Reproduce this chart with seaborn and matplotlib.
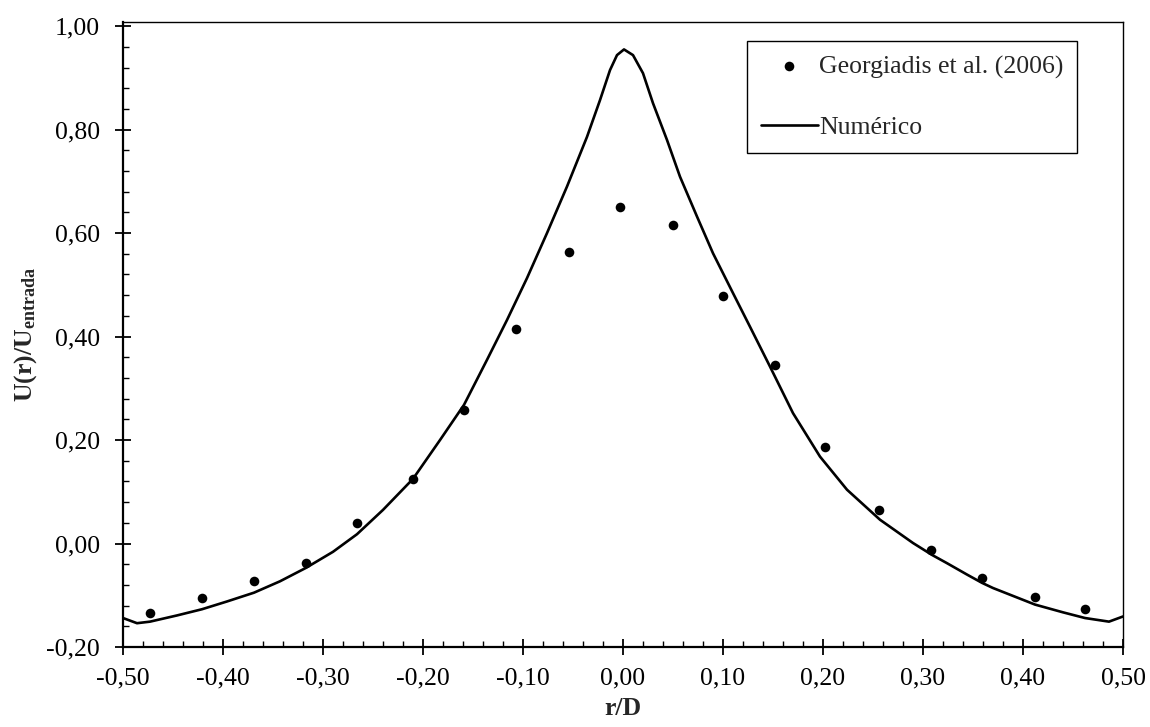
import matplotlib
matplotlib.use("Agg")
import matplotlib.pyplot as plt
import seaborn as sns
import pandas as pd
from matplotlib.ticker import MultipleLocator, FuncFormatter

# Experimental data (Georgiadis et al. 2006)
exp_r = [-0.473, -0.421, -0.369, -0.317, -0.266, -0.210, -0.159, -0.107, -0.054,
         -0.003, 0.050, 0.100, 0.152, 0.202, 0.256, 0.308, 0.359, 0.412, 0.462]
exp_u = [-0.135, -0.106, -0.073, -0.038, 0.040, 0.125, 0.258, 0.415, 0.563,
         0.651, 0.615, 0.479, 0.345, 0.186, 0.064, -0.012, -0.066, -0.103, -0.127]

# Numerical curve
num_r = [-0.500, -0.486, -0.473, -0.446, -0.421, -0.396, -0.369, -0.343, -0.317,
         -0.290, -0.266, -0.240, -0.210, -0.183, -0.159, -0.136, -0.116, -0.096,
         -0.076, -0.056, -0.036, -0.023, -0.013, -0.006, 0.001, 0.010, 0.020,
         0.030, 0.044, 0.057, 0.074, 0.090, 0.110, 0.127, 0.147, 0.170, 0.197,
         0.224, 0.257, 0.290, 0.309, 0.324, 0.344, 0.359, 0.370, 0.412, 0.440,
         0.462, 0.486, 0.500]
num_u = [-0.144, -0.154, -0.151, -0.139, -0.127, -0.112, -0.095, -0.073, -0.047,
         -0.016, 0.018, 0.065, 0.125, 0.200, 0.268, 0.355, 0.432, 0.513,
         0.600, 0.690, 0.786, 0.857, 0.915, 0.944, 0.955, 0.944, 0.909,
         0.851, 0.780, 0.709, 0.632, 0.561, 0.484, 0.419, 0.342, 0.252, 0.168,
         0.104, 0.046, 0.001, -0.022, -0.038, -0.060, -0.076, -0.086, -0.118, -0.133,
         -0.144, -0.151, -0.141]

x_ticks = [-0.5, -0.4, -0.3, -0.2, -0.1, 0.0, 0.1, 0.2, 0.3, 0.4, 0.5]
y_ticks = [-0.2, 0.0, 0.2, 0.4, 0.6, 0.8, 1.0]

sns.set_style("white")
plt.rcParams['font.family'] = ['Liberation Serif', 'DejaVu Serif']
plt.rcParams['mathtext.fontset'] = 'custom'
plt.rcParams['mathtext.rm'] = 'Liberation Serif'
plt.rcParams['mathtext.bf'] = 'Liberation Serif:bold'
plt.rcParams['mathtext.it'] = 'Liberation Serif:italic'

fs = 18.5
fig = plt.figure(figsize=(11.5, 7.27), dpi=100)
ax = fig.add_axes([123/1150, 1 - 647/727, 1000/1150, 625/727])

df_exp = pd.DataFrame({"r": exp_r, "u": exp_u})
df_num = pd.DataFrame({"r": num_r, "u": num_u})

sns.scatterplot(data=df_exp, x="r", y="u", ax=ax, color="black", s=48,
                edgecolor="black", linewidth=0, label="Georgiadis et al. (2006)", zorder=3)
sns.lineplot(data=df_num, x="r", y="u", ax=ax, color="black", linewidth=1.9,
             label="Numérico", sort=False, estimator=None, zorder=2)

ax.set_xlim(-0.5, 0.5)
ax.set_ylim(-0.2, 1.008)
ax.set_xticks(x_ticks)
ax.set_yticks(y_ticks)
ax.xaxis.set_minor_locator(MultipleLocator(0.02))
ax.yaxis.set_minor_locator(MultipleLocator(0.04))
fmt = FuncFormatter(lambda v, p: f"{v:.2f}".replace(".", ",").replace("-0,00", "0,00"))
ax.xaxis.set_major_formatter(fmt)
ax.yaxis.set_major_formatter(fmt)

ax.tick_params(axis="both", which="major", direction="inout", length=11, width=1.3,
               labelsize=fs, colors="black")
ax.tick_params(axis="x", which="major", pad=9)
ax.tick_params(axis="y", which="major", pad=11)
ax.tick_params(axis="both", which="minor", direction="in", length=4.5, width=1.0,
               colors="black")
ax.tick_params(axis="x", which="both", bottom=True, top=False)
ax.tick_params(axis="y", which="both", left=True, right=False)

for side in ["left", "bottom"]:
    ax.spines[side].set_linewidth(1.6)
    ax.spines[side].set_color("black")
for side in ["top", "right"]:
    ax.spines[side].set_linewidth(1.0)
    ax.spines[side].set_color("black")

ax.set_xlabel("r/D", fontsize=fs, fontweight="bold", labelpad=6)
ax.set_ylabel(r"$\mathbf{U(r)/U_{entrada}}$", fontsize=fs, labelpad=5)

leg = ax.legend(loc="upper left", bbox_to_anchor=(0.624, 0.9696), fontsize=fs,
                frameon=True, fancybox=False, edgecolor="black", framealpha=1,
                handlelength=2.2, handletextpad=0.05, labelspacing=1.45,
                borderpad=0.55, borderaxespad=0, scatterpoints=1)
leg.get_frame().set_linewidth(1.0)

fig.savefig("out.png", dpi=100, facecolor="white")
